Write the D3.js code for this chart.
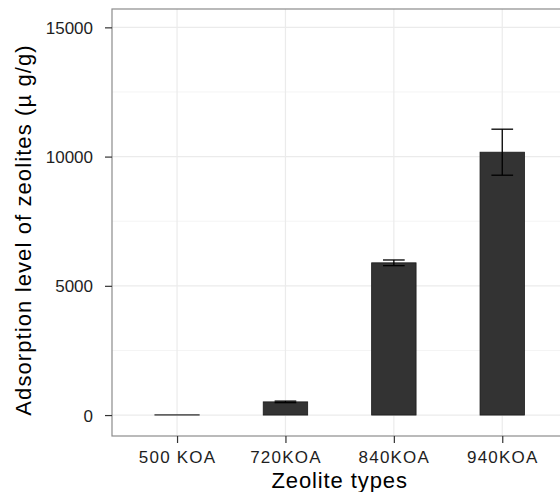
<!DOCTYPE html>
<html><head><meta charset="utf-8">
<script src="https://cdn.jsdelivr.net/npm/d3@7"></script>
<style>
html,body{margin:0;padding:0;background:#fff;}
svg{display:block;font-family:"Liberation Sans",Arial,Helvetica,sans-serif;}
</style></head>
<body>
<svg id="chart" width="560" height="492"></svg>
<script>
const categories = ["500 KOA", "720KOA", "840KOA", "940KOA"];
const values = [10, 510, 5890, 10170];
const errors = [0, 30, 110, 890];
const yTicks = [0, 5000, 10000, 15000];
const yMinorTicks = [2500, 7500, 12500];
const xTitle = "Zeolite types";
const yTitle = "Adsorption level of zeolites (\u00b5 g/g)";

const svg = d3.select("#chart");
const panel = {left: 112, right: 567.3, top: 9, bottom: 436};

const x = d3.scalePoint().domain(categories).range([panel.left, panel.right]).padding(0.6);
const step = x.step();
const y = d3.scaleLinear().domain([-810, 15710]).range([panel.bottom, panel.top]);

svg.append("rect").attr("x", panel.left).attr("y", panel.top)
  .attr("width", panel.right - panel.left).attr("height", panel.bottom - panel.top)
  .attr("fill", "#fff");

// minor grid
svg.append("g").selectAll("line").data(yMinorTicks).join("line")
  .attr("x1", panel.left).attr("x2", panel.right)
  .attr("y1", d => y(d)).attr("y2", d => y(d))
  .attr("stroke", "#f4f4f4").attr("stroke-width", 1);
// major grid
svg.append("g").selectAll("line").data(yTicks).join("line")
  .attr("x1", panel.left).attr("x2", panel.right)
  .attr("y1", d => y(d)).attr("y2", d => y(d))
  .attr("stroke", "#ebebeb").attr("stroke-width", 1.2);
svg.append("g").selectAll("line").data(categories).join("line")
  .attr("x1", d => x(d)).attr("x2", d => x(d))
  .attr("y1", panel.top).attr("y2", panel.bottom)
  .attr("stroke", "#ebebeb").attr("stroke-width", 1.2);

// bars
const bw = step * 0.41;
svg.append("g").selectAll("rect").data(categories).join("rect")
  .attr("x", d => x(d) - bw / 2)
  .attr("width", bw)
  .attr("y", (d, i) => y(values[i]))
  .attr("height", (d, i) => y(0) - y(values[i]))
  .attr("fill", "#333333")
  .attr("stroke", "#1a1a1a").attr("stroke-width", 0.8);

// error bars
const cw = step * 0.2;
const eb = svg.append("g").attr("stroke", "#000").attr("stroke-width", 1.3);
categories.forEach((c, i) => {
  if (errors[i] <= 0) return;
  const cx = x(c), lo = y(values[i] - errors[i]), hi = y(values[i] + errors[i]);
  eb.append("line").attr("x1", cx).attr("x2", cx).attr("y1", lo).attr("y2", hi);
  eb.append("line").attr("x1", cx - cw / 2).attr("x2", cx + cw / 2).attr("y1", lo).attr("y2", lo);
  eb.append("line").attr("x1", cx - cw / 2).attr("x2", cx + cw / 2).attr("y1", hi).attr("y2", hi);
});

// panel border
svg.append("rect").attr("x", panel.left).attr("y", panel.top)
  .attr("width", panel.right - panel.left).attr("height", panel.bottom - panel.top)
  .attr("fill", "none").attr("stroke", "#8c8c8c").attr("stroke-width", 1.2);

// axes
const xAxis = svg.append("g").attr("transform", `translate(0,${panel.bottom})`)
  .call(d3.axisBottom(x).tickSize(7).tickPadding(4));
xAxis.select(".domain").remove();
xAxis.selectAll(".tick line").attr("stroke", "#333").attr("stroke-width", 1.2);
xAxis.selectAll(".tick text").attr("font-size", 17).attr("fill", "#1e1e1e")
  .attr("letter-spacing", "1.2px").attr("dy", "0.93em");

const yAxis = svg.append("g").attr("transform", `translate(${panel.left},0)`)
  .call(d3.axisLeft(y).tickValues(yTicks).tickFormat(d3.format("d")).tickSize(7).tickPadding(12));
yAxis.select(".domain").remove();
yAxis.selectAll(".tick line").attr("stroke", "#333").attr("stroke-width", 1.2);
yAxis.selectAll(".tick text").attr("font-size", 17).attr("fill", "#1e1e1e")
  .attr("dy", "0.36em");

// titles
svg.append("text").attr("x", (panel.left + panel.right) / 2).attr("y", 488)
  .attr("text-anchor", "middle").attr("font-size", 22).attr("fill", "#000")
  .attr("letter-spacing", "0.9px").text(xTitle);
svg.append("text").attr("transform", `translate(31,230) rotate(-90)`)
  .attr("text-anchor", "middle").attr("font-size", 22).attr("fill", "#000")
  .attr("letter-spacing", "1.1px").text(yTitle);
</script>
</body></html>
